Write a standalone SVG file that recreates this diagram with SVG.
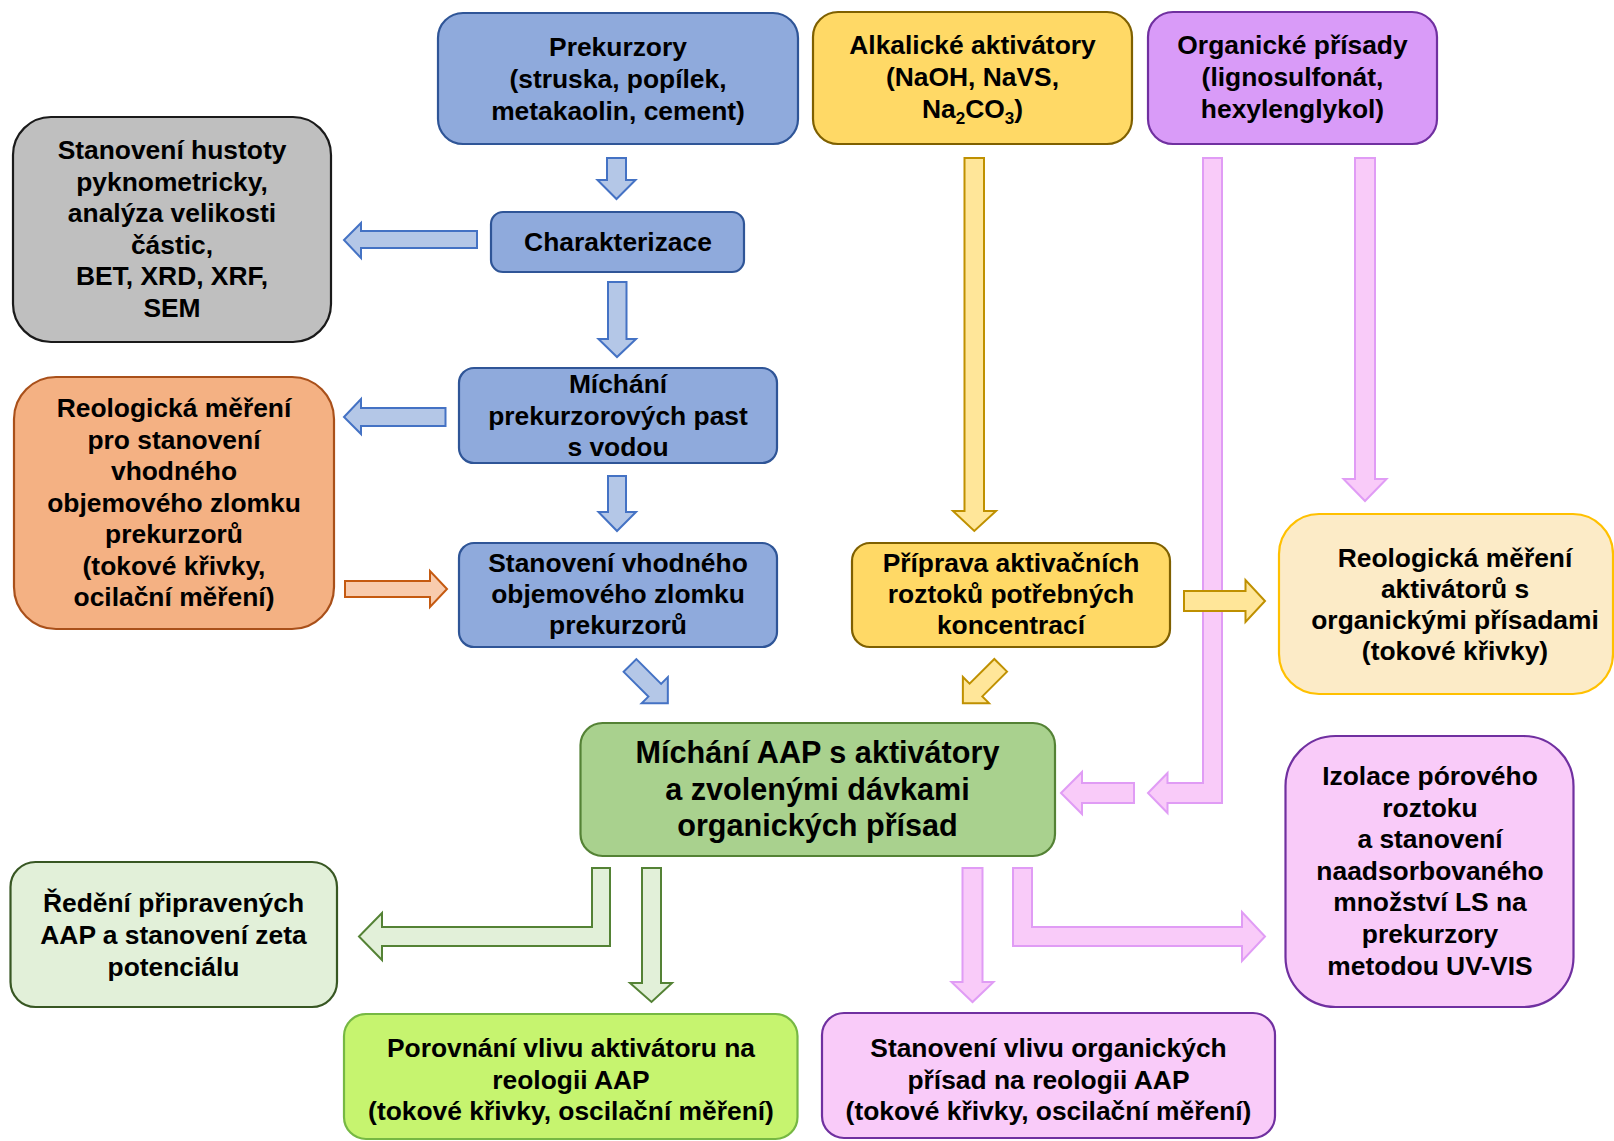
<svg xmlns="http://www.w3.org/2000/svg" width="1614" height="1141" viewBox="0 0 1614 1141">
<style>
text{font-family:"Liberation Sans",Arial,sans-serif;font-weight:bold;font-size:26.4px;fill:#000;text-anchor:middle}
.big{font-size:30.6px}
.box{stroke-width:2.2}
.blue{fill:#8FAADC;stroke:#2F5597}
.yel{fill:#FFD966;stroke:#7F6000}
.pur{fill:#D99BF8;stroke:#7030A0}
.pink{fill:#F9CBF9;stroke:#7030A0}
.gray{fill:#BFBFBF;stroke:#1A1A1A}
.org{fill:#F4B183;stroke:#A9501A}
.cream{fill:#FCEBC7;stroke:#FFC000}
.grn{fill:#A9D18E;stroke:#548235}
.lgrn{fill:#E2F0D9;stroke:#385723}
.lime{fill:#C6F46F;stroke:#76B843}
.a{stroke-width:2;stroke-linejoin:miter}
.ab{fill:#B4C7E7;stroke:#4472C4}
.ay{fill:#FFE699;stroke:#BF9000}
.ap{fill:#F9CBF9;stroke:#E09CF5}
.ao{fill:#F8CBAD;stroke:#C55A11}
.ag{fill:#E2F0D9;stroke:#548235}
</style>
<g id="connectors">
<polygon class="a ab" points="607,158 626,158 626,180 635.5,180 616.5,199 597.5,180 607,180"/>
<polygon class="a ab" points="608,282 626.5,282 626.5,339 636,339 617,357 598.5,339 608,339"/>
<polygon class="a ab" points="608,476 626,476 626,512 636,512 617,531 598.5,512 608,512"/>
<polygon class="a ab" points="477,231 477,248 361,248 361,258 344,240 361,223 361,231"/>
<polygon class="a ab" points="445.5,408 445.5,426 361,426 361,434 344,417 361,399 361,408"/>
<polygon class="a ao" points="345,581 430,581 430,571 447,589 430,607 430,597 345,597"/>
<polygon class="a ab" transform="translate(630,665.5) rotate(45)" points="0,-9 35,-9 35,-18.5 53.5,0 35,18.5 35,9 0,9"/>
<polygon class="a ay" transform="translate(1000.7,665.3) rotate(135)" points="0,-9 35,-9 35,-18.5 53.5,0 35,18.5 35,9 0,9"/>
<polygon class="a ay" points="964.5,158 984,158 984,511 996,511 974.3,531 953,511 964.5,511"/>
<polygon class="a ap" points="1355,158 1375,158 1375,479 1386.5,479 1365,501 1343.5,479 1355,479"/>
<polygon class="a ap" points="1203,158 1222,158 1222,803 1167.5,803 1167.5,813 1148,793 1167.5,773 1167.5,783 1203,783"/>
<polygon class="a ay" points="1184,591 1245.5,591 1245.5,580 1265,601 1245.5,622 1245.5,611 1184,611"/>
<polygon class="a ap" points="1134,783 1134,803 1082,803 1082,814 1061,793 1082,772 1082,783"/>
<polygon class="a ag" points="592,868 610,868 610,946 382,946 382,960 359,936.5 382,913 382,927 592,927"/>
<polygon class="a ag" points="642,868 661,868 661,983 672,983 651.5,1002 630,983 642,983"/>
<polygon class="a ap" points="962.5,868 982.5,868 982.5,982 993.5,982 972.5,1002 951.5,982 962.5,982"/>
<polygon class="a ap" points="1013,868 1032,868 1032,927 1242,927 1242,912 1265,936.5 1242,961 1242,946 1013,946"/>
</g>
<g id="prekurzory">
<rect class="box blue" x="438" y="13" width="360" height="131" rx="25"/>
<text x="618" y="56">Prekurzory</text>
<text x="618" y="88">(struska, popílek,</text>
<text x="618" y="120">metakaolin, cement)</text>
</g>
<g id="alkalicke">
<rect class="box yel" x="813" y="12" width="319" height="132" rx="25"/>
<text x="972.5" y="54">Alkalické aktivátory</text>
<text x="972.5" y="86">(NaOH, NaVS,</text>
<text x="972.5" y="118">Na<tspan dy="6" font-size="17">2</tspan><tspan dy="-6">CO</tspan><tspan dy="6" font-size="17">3</tspan><tspan dy="-6">)</tspan></text>
</g>
<g id="organicke">
<rect class="box pur" x="1148" y="12" width="289" height="132" rx="25"/>
<text x="1292.5" y="54">Organické přísady</text>
<text x="1292.5" y="86">(lignosulfonát,</text>
<text x="1292.5" y="118">hexylenglykol)</text>
</g>
<g id="stanoveni-hustoty">
<rect class="box gray" x="13" y="117" width="318" height="225" rx="38"/>
<text x="172" y="159">Stanovení hustoty</text>
<text x="172" y="191">pyknometricky,</text>
<text x="172" y="222">analýza velikosti</text>
<text x="172" y="254">částic,</text>
<text x="172" y="285">BET, XRD, XRF,</text>
<text x="172" y="317">SEM</text>
</g>
<g id="charakterizace">
<rect class="box blue" x="491" y="212" width="253" height="60" rx="12"/>
<text x="618" y="251">Charakterizace</text>
</g>
<g id="michani-past">
<rect class="box blue" x="459" y="368" width="318" height="95" rx="15"/>
<text x="618" y="393">Míchání</text>
<text x="618" y="425">prekurzorových past</text>
<text x="618" y="456">s vodou</text>
</g>
<g id="reologicka-mereni-prekurzoru">
<rect class="box org" x="14" y="377" width="320" height="252" rx="42"/>
<text x="174" y="417">Reologická měření</text>
<text x="174" y="449">pro stanovení</text>
<text x="174" y="480">vhodného</text>
<text x="174" y="512">objemového zlomku</text>
<text x="174" y="543">prekurzorů</text>
<text x="174" y="575">(tokové křivky,</text>
<text x="174" y="606">ocilační měření)</text>
</g>
<g id="stanoveni-zlomku">
<rect class="box blue" x="459" y="543" width="318" height="104" rx="15"/>
<text x="618" y="572">Stanovení vhodného</text>
<text x="618" y="603">objemového zlomku</text>
<text x="618" y="634">prekurzorů</text>
</g>
<g id="priprava">
<rect class="box yel" x="852" y="543" width="318" height="104" rx="18"/>
<text x="1011" y="572">Příprava aktivačních</text>
<text x="1011" y="603">roztoků potřebných</text>
<text x="1011" y="634">koncentrací</text>
</g>
<g id="reologicka-mereni-aktivatoru">
<rect class="box cream" x="1279" y="514" width="334" height="180" rx="40"/>
<text x="1455" y="567">Reologická měření</text>
<text x="1455" y="598">aktivátorů s</text>
<text x="1455" y="629">organickými přísadami</text>
<text x="1455" y="660">(tokové křivky)</text>
</g>
<g id="michani-aap">
<rect class="box grn" x="580.5" y="723" width="474.5" height="133" rx="22"/>
<text class="big" x="817.5" y="763">Míchání AAP s aktivátory</text>
<text class="big" x="817.5" y="800">a zvolenými dávkami</text>
<text class="big" x="817.5" y="836">organických přísad</text>
</g>
<g id="izolace">
<rect class="box pink" x="1285.5" y="736" width="288" height="271" rx="50"/>
<text x="1430" y="785">Izolace pórového</text>
<text x="1430" y="817">roztoku</text>
<text x="1430" y="848">a stanovení</text>
<text x="1430" y="880">naadsorbovaného</text>
<text x="1430" y="911">množství LS na</text>
<text x="1430" y="943">prekurzory</text>
<text x="1430" y="975">metodou UV-VIS</text>
</g>
<g id="redeni">
<rect class="box lgrn" x="10.5" y="862" width="326.5" height="145" rx="25"/>
<text x="173.5" y="912">Ředění připravených</text>
<text x="173.5" y="944">AAP a stanovení zeta</text>
<text x="173.5" y="976">potenciálu</text>
</g>
<g id="porovnani">
<rect class="box lime" x="344" y="1014" width="453.5" height="125" rx="22"/>
<text x="571" y="1057">Porovnání vlivu aktivátoru na</text>
<text x="571" y="1089">reologii AAP</text>
<text x="571" y="1120">(tokové křivky, oscilační měření)</text>
</g>
<g id="stanoveni-vlivu">
<rect class="box pink" x="822" y="1013" width="453" height="125" rx="22"/>
<text x="1048.5" y="1057">Stanovení vlivu organických</text>
<text x="1048.5" y="1089">přísad na reologii AAP</text>
<text x="1048.5" y="1120">(tokové křivky, oscilační měření)</text>
</g>
</svg>
